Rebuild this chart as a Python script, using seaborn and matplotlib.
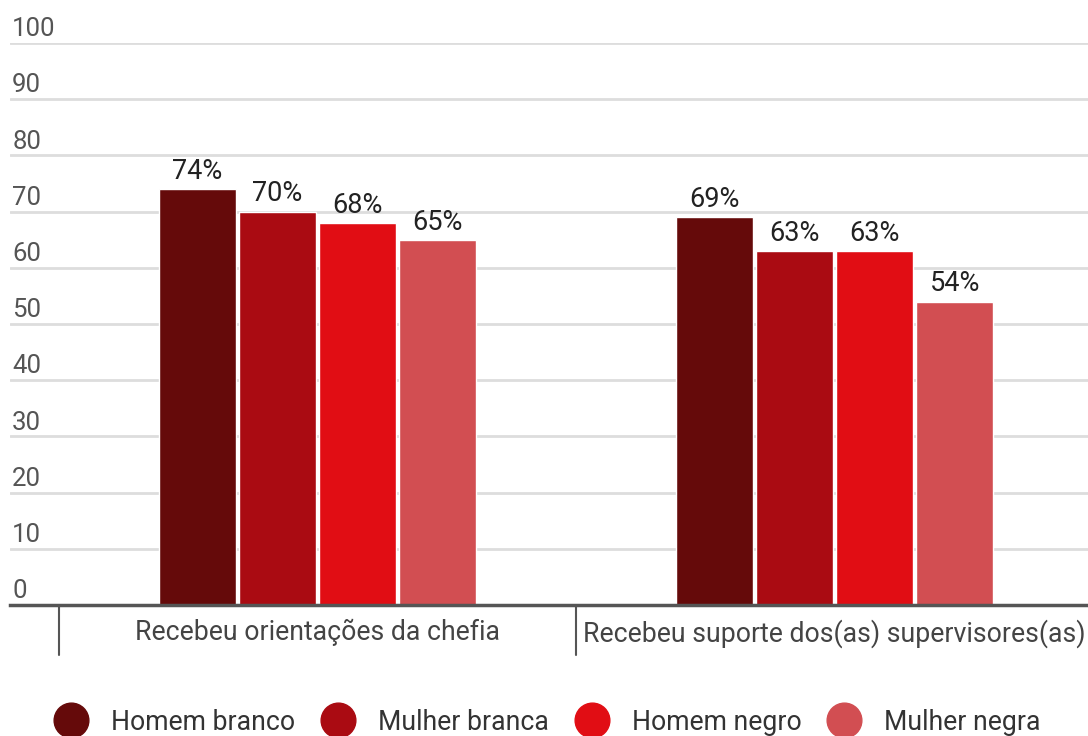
import pandas as pd
import matplotlib
matplotlib.use("Agg")
import matplotlib.pyplot as plt
import matplotlib.transforms as mtransforms
from matplotlib.lines import Line2D
import seaborn as sns

# dados
categorias = ["Recebeu orientações da chefia", "Recebeu suporte dos(as) supervisores(as)"]
grupos = ["Homem branco", "Mulher branca", "Homem negro", "Mulher negra"]
homem_branco = [74, 69]
mulher_branca = [70, 63]
homem_negro = [68, 63]
mulher_negra = [65, 54]
cores = ["#650A0A", "#AA0B12", "#E10D14", "#D24E52"]
yticks = [0, 10, 20, 30, 40, 50, 60, 70, 80, 90, 100]

linhas = []
for g, vals in zip(grupos, [homem_branco, mulher_branca, homem_negro, mulher_negra]):
    for c, v in zip(categorias, vals):
        linhas.append({"Categoria": c, "Grupo": g, "Valor": v})
df = pd.DataFrame(linhas)

sns.set_theme(style="white")
plt.rcParams["font.family"] = ["Roboto", "DejaVu Sans"]

fig = plt.figure(figsize=(10.88, 7.36), dpi=100)
ax = fig.add_axes([10 / 1088, 1 - 605 / 736, 1 - 10 / 1088, (605 - 43) / 736])

sns.barplot(data=df, x="Categoria", y="Valor", hue="Grupo", order=categorias,
            hue_order=grupos, palette=cores, width=0.62, gap=0.04,
            saturation=1, legend=False, ax=ax, zorder=3)

for cont in ax.containers:
    ax.bar_label(cont, fmt="{:.0f}%", padding=3, fontsize=19.5, color="#222222")

ax.set_ylim(0, 100)
ax.set_xlim(-0.595, 1.490)

# grade e rótulos do eixo y acima das linhas
ax.set_yticks(yticks)
ax.set_yticklabels([])
ax.tick_params(axis="y", length=0)
ax.grid(axis="y", color="#dddddd", linewidth=2, zorder=0)
trans = mtransforms.blended_transform_factory(ax.transAxes, ax.transData)
for v in yticks:
    ax.text(0.002, v + 1.2, str(v), transform=trans, ha="left", va="baseline",
            fontsize=18.5, color="#555555")

for s in ["top", "right", "left"]:
    ax.spines[s].set_visible(False)
ax.spines["bottom"].set_color("#555555")
ax.spines["bottom"].set_linewidth(2.5)
ax.spines["bottom"].set_zorder(4)

ax.set_xlabel("")
ax.set_ylabel("")
ax.tick_params(axis="x", length=0, pad=10, labelsize=19.2, labelcolor="#444444")

# separadores das categorias
trans_x = mtransforms.blended_transform_factory(ax.transData, ax.transAxes)
for xs in [-0.5, 0.5, 1.5]:
    ax.plot([xs, xs], [0, -50 / 562], transform=trans_x, color="#555555",
            linewidth=1.5, clip_on=False)

handles = [Line2D([0], [0], marker="o", linestyle="", markersize=25,
                  markerfacecolor=c, markeredgecolor=c) for c in cores]
fig.legend(handles, grupos, loc="center left", bbox_to_anchor=(0.03125, 1 - 722 / 736),
           ncol=4, frameon=False, fontsize=19.2, handletextpad=0.5,
           columnspacing=0.6, labelcolor="#333333", borderaxespad=0)

fig.savefig("out.png", dpi=100)
